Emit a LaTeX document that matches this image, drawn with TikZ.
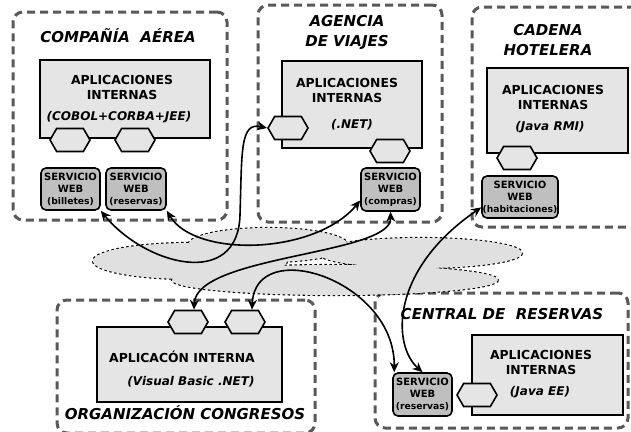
\documentclass[tikz,border=0pt]{standalone}
\usepackage{fontspec}
\setmainfont{DejaVu Sans}
\usetikzlibrary{shapes.symbols,arrows.meta}
\newcommand{\sw}[1]{\fontsize{10}{12.5}\selectfont SERVICIO\\WEB\\\fontsize{9.2}{12.5}\selectfont #1}
\begin{document}
\begin{tikzpicture}[x=1pt,y=-1pt]
  \tikzset{grupo/.style={draw=black!65,line width=3pt,dash pattern=on 8pt off 5pt,rounded corners=10pt,inner sep=0pt},
    aplic/.style={draw,line width=1.6pt,fill=black!10,inner sep=0pt},
    hexa/.style={draw,line width=1.6pt,fill=black!10,signal,signal to=west and east,signal pointer angle=120,minimum width=40pt,minimum height=23pt,inner sep=0pt},
    servicio/.style={draw,line width=1.6pt,fill=black!25,rounded corners=5pt,inner sep=0pt,align=center,font=\bfseries},
    titulo/.style={font=\fontsize{15}{20}\selectfont\bfseries\itshape,align=center},
    texto/.style={font=\fontsize{12.4}{15}\selectfont\bfseries,align=center},
    nube/.style={draw,line width=2.2pt,dash pattern=on 2.5pt off 2.5pt,fill=black!12},
    flecha/.style={line width=1.6pt,{Stealth[length=10pt,width=9pt]}-{Stealth[length=10pt,width=9pt]}}}

  \useasboundingbox (0,0) rectangle (631,431);

  % marcos de cada organizacion
  \node [grupo,minimum width=214pt,minimum height=208pt] (gAerea) at (120,116) {};
  \node [grupo,minimum width=184pt,minimum height=217pt] (gAgencia) at (350,113.5) {};
  \node [grupo,minimum width=173pt,minimum height=220pt] (gHotel) at (558.5,117) {};
  \node [grupo,minimum width=258pt,minimum height=133pt] (gOrg) at (186,366.5) {};
  \node [grupo,minimum width=253pt,minimum height=135pt] (gCentral) at (501.5,360.5) {};

  % nube
  \draw [nube] (190,261) ellipse [x radius=97,y radius=18];
  \draw [nube] (268,245) ellipse [x radius=80,y radius=17];
  \draw [nube] (420,253) ellipse [x radius=102,y radius=15];
  \draw [nube] (335,280) ellipse [x radius=163,y radius=15];
  \fill [black!12] (190,261) ellipse [x radius=97,y radius=18]
    (268,245) ellipse [x radius=80,y radius=17]
    (420,253) ellipse [x radius=102,y radius=15]
    (335,280) ellipse [x radius=163,y radius=15];

  \node [aplic,minimum width=170pt,minimum height=78pt] (appAerea) at (125,99) {};
  \node [aplic,minimum width=140pt,minimum height=87pt] (appAgencia) at (352,104.5) {};
  \node [aplic,minimum width=141pt,minimum height=85pt] (appHotel) at (557.5,110.5) {};
  \node [aplic,minimum width=185pt,minimum height=75pt] (appOrg) at (189.5,364.5) {};
  \node [aplic,minimum width=151pt,minimum height=80pt] (appCentral) at (547.5,375) {};

  \node [hexa] (hA1) at (70,140) {};
  \node [hexa] (hA2) at (135,140) {};
  \node [hexa] (hG1) at (288,128) {};
  \node [hexa] (hG2) at (390,151) {};
  \node [hexa] (hH1) at (517,158) {};
  \node [hexa] (hO1) at (188,322) {};
  \node [hexa] (hO2) at (245,322) {};
  \node [hexa] (hC1) at (477,395) {};

  \node [servicio,minimum width=59pt,minimum height=42pt] (sBil) at (70.5,189) {\sw{(billetes)}};
  \node [servicio,minimum width=60pt,minimum height=42pt] (sRes) at (136,189) {\sw{(reservas)}};
  \node [servicio,minimum width=59pt,minimum height=43pt] (sCom) at (390.5,189.5) {\sw{(compras)}};
  \node [servicio,minimum width=76pt,minimum height=42pt] (sHab) at (520,197) {\sw{(habitaciones)}};
  \node [servicio,minimum width=59pt,minimum height=43pt] (sCen) at (422.5,394.5) {\sw{(reservas)}};

  \node [titulo] (tAerea) at (118,36) {COMPAÑÍA\ \ AÉREA};
  \node [titulo] (tAgencia) at (347,32) {AGENCIA\\DE VIAJES};
  \node [titulo] (tHotel) at (548,40) {CADENA\\HOTELERA};
  \node [titulo] (tOrg) at (185,413) {ORGANIZACIÓN CONGRESOS};
  \node [titulo] (tCentral) at (502,314) {CENTRAL DE\ \ RESERVAS};

  \node [texto] (xAerea) at (122,87.5) {APLICACIONES\\INTERNAS};
  \node [texto,font=\fontsize{12}{15}\selectfont\bfseries\itshape] (iAerea) at (119,117) {(COBOL+CORBA+JEE)};
  \node [texto] (xAgencia) at (347,90) {APLICACIONES\\INTERNAS};
  \node [texto,font=\fontsize{12}{15}\selectfont\bfseries\itshape] (iAgencia) at (352,125) {(.NET)};
  \node [texto] (xHotel) at (553,97) {APLICACIONES\\INTERNAS};
  \node [texto,font=\fontsize{12}{15}\selectfont\bfseries\itshape] (iHotel) at (550,127) {(Java RMI)};
  \node [texto] (xOrg) at (182,357) {APLICACÓN INTERNA};
  \node [texto,font=\fontsize{12}{15}\selectfont\bfseries\itshape] (iOrg) at (191,382) {(Visual Basic .NET)};
  \node [texto] (xCentral) at (541,362) {APLICACIONES\\INTERNAS};
  \node [texto,font=\fontsize{12}{15}\selectfont\bfseries\itshape] (iCentral) at (540,392) {(Java EE)};

  \draw [flecha] (sBil.south east) .. controls (145,265) and (238,290) .. (240,215) .. controls (242,150) and (240,122) .. (hG1.west);
  \draw [flecha] (sRes.south east) .. controls (195,258) and (315,255) .. (sCom.200);
  \draw [flecha] (sCom.south) .. controls (392,255) and (196,255) .. ([xshift=6pt]hO1.north);
  \draw [flecha] (sHab.195) .. controls (390,270) and (392,345) .. (sCen.north);
  \draw [flecha] ([xshift=7pt]hO2.north) .. controls (255,235) and (395,280) .. ([xshift=2pt]sCen.north west);
\end{tikzpicture}
\end{document}
